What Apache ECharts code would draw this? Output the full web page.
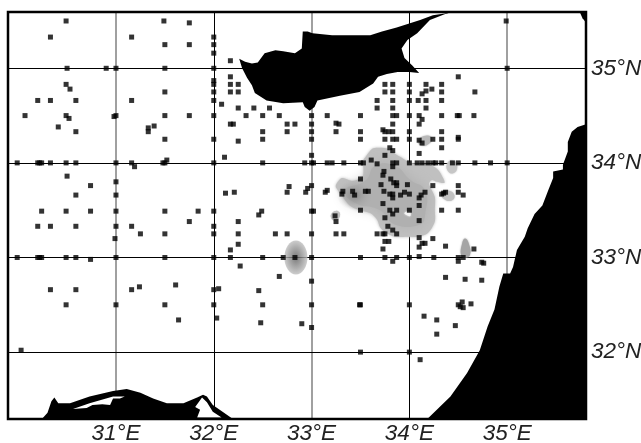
<!DOCTYPE html>
<html><head><meta charset="utf-8">
<style>html,body{margin:0;padding:0;background:#fff}#c{width:641px;height:443px}</style>
<script src="https://cdn.jsdelivr.net/npm/echarts@6/dist/echarts.min.js"></script>
</head><body><div id="c"></div>
<script>
var lonTicks=[31,32,33,34,35];
var latTicks=[32,33,34,35];
var stations=[
[30.49,35.5],[31.49,35.5],[31.75,35.48],[30.33,35.33],[31.16,35.33],[32,35.33],[31.5,35.25],[31.75,35.25],[32,35.25],[32,35.16],[32.17,35.08],
[30.5,35],[30.9,35],[31,35],[31.5,35],[32,35],[32.17,34.91],[32,34.87],[32,34.83],[32.17,34.83],[32.25,34.83],[30.49,34.83],[30.53,34.78],
[31.5,34.75],[32,34.75],[32.17,34.75],[32.25,34.75],[30.2,34.66],[30.33,34.66],[30.59,34.66],[31.16,34.66],[32,34.66],[32.08,34.62],
[32.25,34.58],[32.41,34.58],[32.57,34.58],[30.07,34.5],[30.49,34.5],[30.52,34.47],[30.98,34.49],[31,34.5],[31.5,34.5],[31.75,34.5],[32,34.5],[32.33,34.5],[32.5,34.5],[32.67,34.5],[33,34.5],
[30.41,34.38],[30.59,34.33],[31.39,34.39],[31.33,34.37],[31.33,34.33],[32.17,34.41],[32.2,34.41],[32.75,34.41],[32.83,34.41],[33,34.41],
[32.5,34.33],[32.75,34.33],[33,34.33],[31.5,34.25],[32,34.25],[32.25,34.23],[32.5,34.25],[33,34.25],[33,34.08],[32.11,34.06],
[29.99,34],[30.2,34],[30.22,34],[30.24,34],[30.33,34],[30.49,34],[30.59,34],[31,34],[31.16,34],[31.19,33.96],[31.48,34],[31.5,34],[31.52,34.03],[32,34],[32.5,34],[32.93,34],[33,34],[33.02,34],
[30.5,33.86],[31,33.8],[30.74,33.76],[30.59,33.66],[31,33.66],[32.12,33.68],[32.21,33.69],[32.77,33.75],[32.75,33.69],[32.94,33.69],[32.96,33.73],[33,33.76],
[30.24,33.49],[30.49,33.49],[30.74,33.49],[31,33.49],[31.5,33.49],[31.84,33.49],[32,33.49],[32.49,33.49],[32.46,33.45],[33,33.49],[33.02,33.49],
[30.2,33.33],[30.33,33.33],[30.59,33.33],[31,33.33],[31.16,33.33],[31.75,33.38],[32,33.33],[32.25,33.38],
[31.25,33.25],[31.5,33.25],[32,33.25],[32.25,33.25],[32.63,33.25],[32.75,33.25],[33,33.25],[30.99,33.2],[32.25,33.14],[32.17,33.08],
[29.99,33],[30.2,33],[30.22,33],[30.24,33],[30.49,33],[30.59,33],[30.74,32.98],[31,33],[31.5,33],[32,33],[32.17,33],[32.5,33],[32.71,33],[32.83,33],[33,33],
[32.27,32.91],[32.67,32.8],[33,32.75],[30.33,32.66],[30.59,32.66],[31.16,32.66],[31.24,32.69],[31.61,32.71],[32,32.66],[32.05,32.67],[32.46,32.65],
[30.49,32.5],[31,32.5],[31.5,32.5],[32,32.5],[32.5,32.5],[33,32.5],[31.64,32.34],[32.03,32.36],[32.48,32.31],[32.9,32.3],[33,32.26],[30.03,32.02],
[34.99,35.5],[35,35],[34.5,34.91],[33.75,34.83],[33.83,34.83],[34,34.83],[34.17,34.83],[34.33,34.83],[34.23,34.78],
[33.75,34.75],[33.83,34.75],[34,34.75],[34.17,34.76],[34.13,34.73],[34.33,34.75],[34.67,34.75],
[33.67,34.66],[33.83,34.66],[34,34.66],[34.09,34.66],[34.17,34.66],[34.33,34.66],[33.67,34.58],[33.83,34.58],[34.17,34.58],
[33.16,34.5],[33.5,34.5],[33.83,34.5],[33.87,34.5],[34,34.5],[34.1,34.5],[34.13,34.46],[34.33,34.5],[34.49,34.5],[34.51,34.5],[34.66,34.5],
[33.25,34.42],[33.28,34.41],[33.83,34.41],[34.1,34.41],[33.25,34.33],[33.5,34.33],[33.73,34.35],[33.75,34.33],[33.79,34.33],[33.83,34.33],[34,34.33],[34.33,34.33],
[33.5,34.25],[33.75,34.25],[33.83,34.25],[33.87,34.25],[34,34.25],[34.1,34.24],[34.13,34.21],[34.24,34.25],[34.33,34.25],[34.5,34.27],[34.5,34.25],
[34.33,34.16],[33.8,34.16],[33.83,34.13],[33.75,34.08],[34.1,34.1],
[33.16,34],[33.21,34],[33.33,34],[33.5,34],[33.53,34],[33.61,34.03],[33.67,33.99],[33.83,34],[33.87,34],[33.83,33.96],[34,34],[34.08,34],[34.13,34],[34.19,34],[34.24,34],[34.27,34],[34.33,34],[34.44,34],[34.5,34],[34.67,34],[34.83,34],[35,34],
[33.74,33.91],[33.73,33.87],[33.5,33.83],[33.81,33.83],[33.84,33.79],[33.87,33.79],[33.87,33.76],[33.71,33.77],[33.98,33.77],[34.24,33.76],[34.5,33.76],
[33.16,33.71],[33.14,33.69],[33.32,33.7],[33.31,33.67],[33.42,33.7],[33.44,33.66],[33.55,33.7],[33.58,33.7],[33.74,33.7],[33.95,33.69],[33.91,33.66],[33.8,33.67],[33.83,33.67],[33.83,33.63],[34,33.67],[34.16,33.69],[34.12,33.66],[34.1,33.63],[34.33,33.67],[34.37,33.69],[34.35,33.68],[34.5,33.69],[34.55,33.66],
[33.73,33.57],[34.1,33.55],[33.5,33.5],[33.8,33.5],[33.87,33.5],[34,33.5],[33.83,33.46],[34.33,33.5],[34.5,33.5],
[33.24,33.44],[33.75,33.42],[33.25,33.38],[34.1,33.39],[33.78,33.33],[33.83,33.29],
[33.25,33.25],[33.33,33.25],[33.67,33.25],[33.73,33.25],[33.75,33.25],[33.87,33.25],
[34.1,33.21],[34.24,33.2],[33.75,33.17],[33.79,33.17],[34.13,33.15],[34.16,33.15],[34.1,33.11],[34.37,33.12],[33.73,33.09],[34.66,33.09],
[33.5,33],[33.75,33],[33.87,33],[33.83,32.96],[34,33],[34.1,33.01],[34.25,33],[34.5,33],[34.55,33],[34.5,32.96],[34.74,32.95],[34.76,32.94],
[34.37,32.79],[34.57,32.77],[34.74,32.76],[33.49,32.5],[33.5,32.5],[34,32.5],[34.5,32.5],[34.54,32.53],[34.55,32.47],[34.63,32.51],[34.52,32.48],
[34.15,32.38],[34.28,32.34],[34.47,32.28],[34.28,32.19],[33.5,32],[34,32],[34.11,31.92]
];
var cyprus=[[32.26,35.1],[32.32,35.07],[32.39,35.05],[32.45,35.06],[32.52,35.16],[32.63,35.19],[32.71,35.18],[32.83,35.16],[32.9,35.21],[32.91,35.39],[32.96,35.39],[33.01,35.37],[33.21,35.35],[33.39,35.35],[33.6,35.35],[33.72,35.39],[33.87,35.43],[33.99,35.47],[34.11,35.51],[34.24,35.56],[34.36,35.58],[34.45,35.6],[34.36,35.57],[34.21,35.51],[34.08,35.37],[33.98,35.3],[33.92,35.21],[33.95,35.11],[34.03,35.03],[34.1,34.95],[34,34.96],[33.88,34.96],[33.77,34.94],[33.68,34.91],[33.63,34.84],[33.49,34.75],[33.29,34.71],[33.06,34.66],[33.03,34.59],[32.98,34.55],[32.93,34.59],[32.91,34.64],[32.71,34.63],[32.54,34.66],[32.42,34.74],[32.39,34.82],[32.34,34.9],[32.29,35]];
var levant=[[35.81,34.41],[35.72,34.38],[35.66,34.33],[35.62,34.22],[35.62,34.12],[35.57,33.98],[35.57,33.93],[35.47,33.91],[35.47,33.84],[35.42,33.71],[35.36,33.55],[35.28,33.46],[35.21,33.31],[35.18,33.22],[35.1,33.08],[35.06,32.9],[35.03,32.83],[34.96,32.83],[34.92,32.69],[34.87,32.45],[34.8,32.27],[34.72,32.02],[34.59,31.78],[34.42,31.53],[34.18,31.29],[35.81,31.29]];
var turkeyCorner=[[35.74,35.6],[35.77,35.53],[35.81,35.48],[35.81,35.6]];
var egypt=[[30.24,31.29],[30.3,31.36],[30.34,31.48],[30.37,31.52],[30.41,31.46],[30.53,31.46],[30.73,31.53],[30.97,31.59],[31.11,31.61],[31.25,31.57],[31.38,31.51],[31.52,31.46],[31.69,31.46],[31.83,31.52],[31.89,31.55],[31.93,31.53],[31.99,31.44],[32.09,31.37],[32.2,31.29]];
var lagoon=[[30.56,31.4],[30.73,31.46],[30.97,31.53],[31.09,31.53],[31.04,31.51],[30.97,31.51],[30.94,31.44],[30.86,31.45],[30.76,31.44],[30.7,31.41]];
var nileGap=[[31.88,31.52],[31.93,31.47],[31.99,31.37],[32.08,31.31],[31.83,31.31],[31.86,31.39],[31.81,31.42]];
var blobMain=[[33.25,33.77],[33.31,33.84],[33.42,33.81],[33.52,33.85],[33.53,33.95],[33.52,34.01],[33.55,34.06],[33.62,34.15],[33.7,34.16],[33.78,34.15],[33.85,34.1],[33.93,34.05],[34.01,34],[34.11,33.99],[34.21,33.98],[34.29,33.93],[34.33,33.87],[34.36,33.79],[34.28,33.8],[34.23,33.82],[34.2,33.78],[34.26,33.64],[34.26,33.5],[34.26,33.38],[34.19,33.26],[34.08,33.22],[33.98,33.22],[33.85,33.22],[33.75,33.27],[33.7,33.32],[33.67,33.4],[33.6,33.47],[33.49,33.5],[33.39,33.55],[33.32,33.64],[33.25,33.74]];
var blobInner=[[33.34,33.71],[33.55,33.81],[33.65,33.97],[33.85,33.97],[34.01,33.82],[34.16,33.71],[34.16,33.45],[34.11,33.35],[33.85,33.35],[33.7,33.5],[33.44,33.58]];
var blobHole=[[33.95,33.47],[34,33.49],[34.01,33.44],[33.97,33.45]];
var blobA=[[34.33,33.69],[34.39,33.71],[34.46,33.66],[34.43,33.6],[34.34,33.63]];
var blobB=[[34.39,34],[34.45,34.02],[34.49,33.96],[34.45,33.89],[34.39,33.92]];
var blobC=[[34.09,34.24],[34.18,34.29],[34.23,34.26],[34.21,34.21],[34.13,34.18]];
var blobD=[[34.53,33.02],[34.54,33.15],[34.57,33.2],[34.61,33.14],[34.62,33.03],[34.57,33]];
var blobE=[[33.21,33.47],[33.27,33.49],[33.29,33.44],[33.24,33.39],[33.2,33.42]];
var coreSpots=[[33.44,33.66]];
var spot=[[32.84,33]];

function radial(a,b){return {type:'radial',x:.5,y:.5,r:.5,colorStops:[{offset:0,color:a},{offset:1,color:b}]};}
function poly(points,fill,z,smooth,blur){
  return {type:'custom',coordinateSystem:'cartesian2d',data:[0],z:z,silent:true,clip:true,
    renderItem:function(p,api){
      return {type:'polygon',shape:{points:points.map(function(q){return api.coord(q);}),smooth:smooth||0},
        style:{fill:fill,shadowBlur:blur||0,shadowColor:fill}};
    }};
}
var lines=[];
lonTicks.forEach(function(v){var g=v%2===1;lines.push({xAxis:v,lineStyle:{color:g?'#808080':'#000',width:g?1.5:1,type:'solid'}});});
latTicks.forEach(function(v){lines.push({yAxis:v,lineStyle:{color:'#000',width:1,type:'solid'}});});

var labelBase={fontFamily:'Liberation Sans',fontStyle:'italic',fontSize:22.5,color:'#222'};
var chart=echarts.init(document.getElementById('c'),null,{renderer:'canvas'});
chart.setOption({
  animation:false,backgroundColor:'#fff',
  grid:{left:8,right:55,top:12,bottom:24,outerBoundsMode:'none',show:true,borderColor:'#000',borderWidth:2.5,z:10,backgroundColor:'transparent'},
  xAxis:{type:'value',min:29.896,max:35.806,splitLine:{show:false},axisTick:{show:false},axisLine:{show:false},
    axisLabel:Object.assign({customValues:lonTicks,margin:3,formatter:function(v){return v+'°E';}},labelBase)},
  yAxis:{type:'value',position:'right',min:31.293,max:35.595,splitLine:{show:false},axisTick:{show:false},axisLine:{show:false},
    axisLabel:Object.assign({customValues:latTicks,margin:5,formatter:function(v){return v+'°N';}},labelBase)},
  series:[
    {type:'line',data:[],z:1,silent:true,markLine:{z:1,silent:true,symbol:'none',label:{show:false},animation:false,data:lines}},
    poly(cyprus,'#000',3),poly(levant,'#000',3),poly(turkeyCorner,'#000',3),poly(egypt,'#000',3),poly(lagoon,'#fff',4),poly(nileGap,'#fff',4),
    poly(blobMain,'#c0c0c0',3,.3,3),poly(blobInner,'#b0b0b0',4,.5,14),poly(blobHole,'#f4f4f4',5,.5,2),
    poly(blobA,'#c2c2c2',3,.5,2),poly(blobB,'#c6c6c6',3,.5,2),poly(blobC,'#b8b8b8',3,.5,2),poly(blobD,'#a5a5a5',3,.5,2),poly(blobE,'#c2c2c2',3,.5,1),
    {type:'scatter',data:coreSpots,z:5,silent:true,symbol:'circle',symbolSize:[36,30],itemStyle:{color:radial('rgba(120,120,120,.9)','rgba(168,168,168,0)')}},
    {type:'scatter',data:spot,z:5,silent:true,symbol:'circle',symbolSize:[23,34],itemStyle:{color:radial('#5a5a5a','#c0c0c0')}},
    {type:'scatter',data:stations,z:7,silent:true,symbol:'rect',symbolSize:5,itemStyle:{color:'#000'}}
  ]
});
</script></body></html>
